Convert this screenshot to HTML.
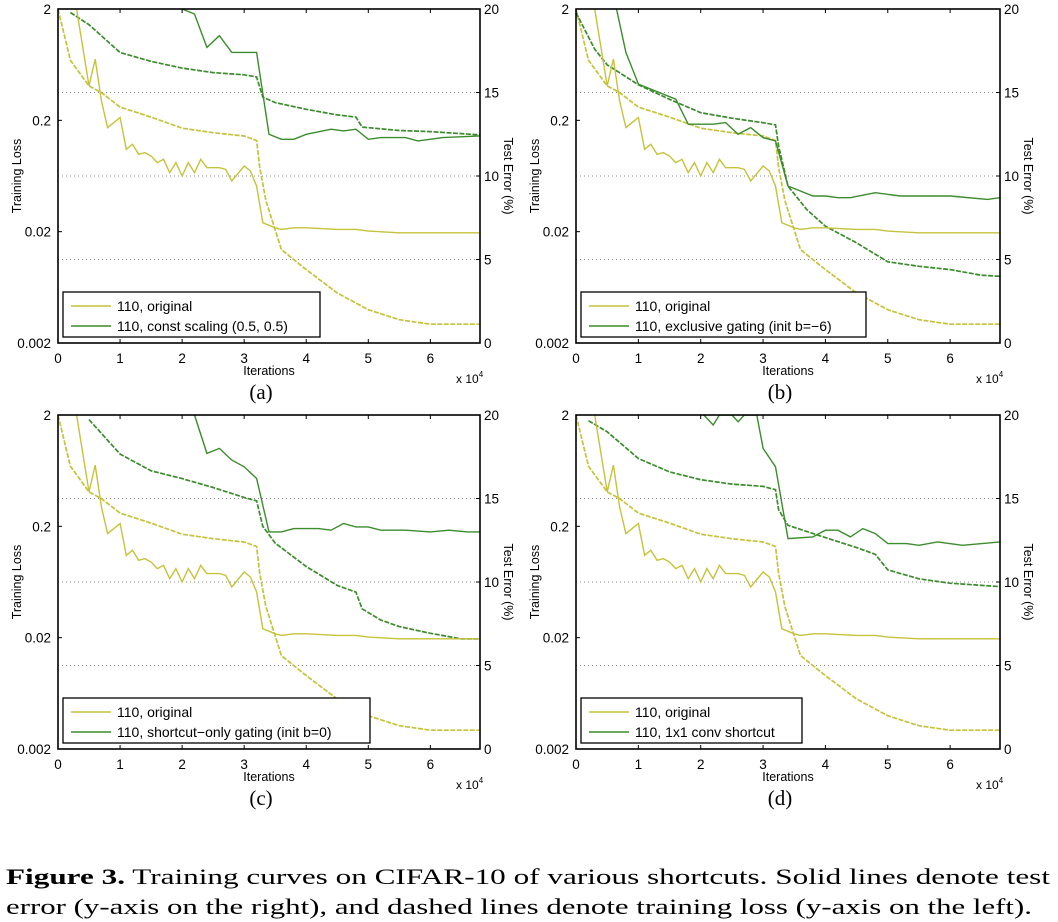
<!DOCTYPE html>
<html><head><meta charset="utf-8">
<style>
html,body{margin:0;padding:0;background:#fff;}
svg{display:block;font-family:"Liberation Sans",sans-serif;}
</style></head>
<body>
<svg id="fig" width="1058" height="922" viewBox="0 0 1058 922" xmlns="http://www.w3.org/2000/svg">
<g id="panels"></g>
<text x="6" y="884" font-family="'Liberation Serif',serif" font-size="22" textLength="1044" lengthAdjust="spacingAndGlyphs"><tspan font-weight="bold">Figure 3.</tspan> Training curves on CIFAR-10 of various shortcuts. Solid lines denote test</text>
<text x="6" y="914" font-family="'Liberation Serif',serif" font-size="22" textLength="1026" lengthAdjust="spacingAndGlyphs">error (y-axis on the right), and dashed lines denote training loss (y-axis on the left).</text>
</svg>
<script>
// x in units of 1e4 iterations; test error in %; training loss as log10 value
const origErrX = [0.3,0.5,0.6,0.7,0.8,1.0,1.1,1.2,1.3,1.4,1.5,1.6,1.7,1.8,1.9,2.0,2.1,2.2,2.3,2.4,2.6,2.7,2.8,3.0,3.1,3.2,3.3,3.5,3.6,3.8,4.0,4.5,4.8,5.0,5.5,6.0,6.8];
const origErrY = [20,15.4,17.0,14.5,12.9,13.5,11.6,11.9,11.3,11.4,11.2,10.8,11.0,10.2,10.8,10.0,10.8,10.2,11.0,10.5,10.5,10.4,9.7,10.6,10.3,9.4,7.2,6.9,6.8,6.9,6.9,6.8,6.8,6.7,6.6,6.6,6.6];
const origLossX = [0,0.2,0.5,0.7,1.0,1.5,2.0,2.5,3.0,3.2,3.25,3.35,3.6,4.0,4.5,5.0,5.5,6.0,6.8];
const origLossY = [0.30,-0.16,-0.39,-0.45,-0.58,-0.67,-0.77,-0.81,-0.84,-0.88,-1.12,-1.42,-1.86,-2.04,-2.25,-2.40,-2.49,-2.53,-2.53];

const aErrX = [2.0,2.2,2.4,2.6,2.8,3.2,3.4,3.6,3.8,4.0,4.4,4.6,4.8,5.0,5.2,5.6,5.8,6.2,6.8];
const aErrY = [20,19.7,17.7,18.4,17.4,17.4,12.5,12.2,12.2,12.5,12.8,12.7,12.8,12.2,12.3,12.3,12.1,12.3,12.4];
const aLossX = [0.2,0.5,1.0,1.5,2.0,2.5,3.0,3.2,3.3,3.5,4.0,4.5,4.8,4.9,5.5,6.0,6.8];
const aLossY = [0.27,0.16,-0.09,-0.17,-0.23,-0.27,-0.29,-0.31,-0.49,-0.54,-0.60,-0.65,-0.67,-0.76,-0.79,-0.80,-0.83];

const bErrX = [0.65,0.8,1.0,1.6,1.8,2.2,2.4,2.6,2.8,3.0,3.2,3.4,3.8,4.0,4.2,4.4,4.8,5.2,6.0,6.6,6.8];
const bErrY = [20,17.4,15.5,14.6,13.1,13.1,13.2,12.5,12.9,12.3,12.1,9.4,8.8,8.8,8.7,8.7,9.0,8.8,8.8,8.6,8.7];
const bLossX = [0,0.3,0.5,1.0,1.5,2.0,2.5,3.0,3.2,3.25,3.4,3.7,4.0,4.5,5.0,5.5,6.0,6.5,6.8];
const bLossY = [0.27,-0.06,-0.20,-0.38,-0.51,-0.63,-0.68,-0.72,-0.74,-0.93,-1.29,-1.50,-1.65,-1.80,-1.97,-2.01,-2.04,-2.09,-2.10];

const cErrX = [2.2,2.4,2.6,2.8,3.0,3.2,3.4,3.6,3.8,4.2,4.4,4.6,4.8,5.0,5.2,5.6,6.0,6.3,6.6,6.8];
const cErrY = [20,17.7,18.0,17.3,16.9,16.2,13.0,13.0,13.2,13.2,13.1,13.5,13.3,13.3,13.1,13.1,13.0,13.1,13.0,13.0];
const cLossX = [0.5,1.0,1.5,2.0,2.5,3.0,3.2,3.3,3.5,4.0,4.5,4.8,4.9,5.2,5.5,6.0,6.5,6.8];
const cLossY = [0.26,-0.05,-0.20,-0.27,-0.35,-0.44,-0.47,-0.70,-0.85,-1.06,-1.23,-1.29,-1.44,-1.54,-1.60,-1.66,-1.71,-1.71];

const dErrX = [2.05,2.2,2.3,2.4,2.5,2.6,2.7,2.9,3.0,3.2,3.4,3.8,4.0,4.2,4.4,4.6,4.8,5.0,5.3,5.5,5.8,6.2,6.8];
const dErrY = [20,19.4,20,20,20,19.6,20,20,18.0,16.9,12.6,12.7,13.1,13.1,12.7,13.2,12.9,12.3,12.3,12.2,12.4,12.2,12.4];
const dLossX = [0.2,0.5,1.0,1.5,2.0,2.5,3.0,3.2,3.25,3.4,4.0,4.5,4.8,5.0,5.5,6.0,6.8];
const dLossY = [0.25,0.15,-0.09,-0.21,-0.28,-0.32,-0.34,-0.37,-0.55,-0.69,-0.80,-0.89,-0.95,-1.09,-1.17,-1.21,-1.24];

const xTicks = [0,1,2,3,4,5,6];
const leftTickVals = [0.301,-0.699,-1.699,-2.699];
const leftTickLabels = ["2","0.2","0.02","0.002"];
const rightTicks = [0,5,10,15,20];
const panelLetters = ["(a)","(b)","(c)","(d)"];
const legendLabels = ["110, const scaling (0.5, 0.5)","110, exclusive gating (init b=\u22126)","110, shortcut\u2212only gating (init b=0)","110, 1x1 conv shortcut"];

const YEL = "#c6c23a", GRN = "#3b8c2c";
const NS = "http://www.w3.org/2000/svg";
function mk(tag, attrs, parent){const e=document.createElementNS(NS,tag);for(const k in attrs)e.setAttribute(k,attrs[k]);if(parent)parent.appendChild(e);return e;}

const layout = [
  {L:58,R:480,T:9,B:343,legW:257},
  {L:576,R:1000,T:9,B:343,legW:285},
  {L:58,R:480,T:415,B:749,legW:307},
  {L:576,R:1000,T:415,B:749,legW:221}
];
const greens = [[aErrX,aErrY,aLossX,aLossY],[bErrX,bErrY,bLossX,bLossY],[cErrX,cErrY,cLossX,cLossY],[dErrX,dErrY,dLossX,dLossY]];
const root = document.getElementById('panels');

layout.forEach((p,i)=>{
  const g = mk('g',{},root);
  
  
  const xs = v => p.L + v/6.8*(p.R-p.L);
  const yR = v => p.B - v/20*(p.B-p.T);
  const yL = v => p.T + (0.301 - v)/3*(p.B-p.T);
  const cid = 'clip'+i;
  const cp = mk('clipPath',{id:cid},g); mk('rect',{x:p.L,y:p.T,width:p.R-p.L,height:p.B-p.T},cp);
  [5,10,15].forEach(v=>{
    const l = mk('line',{x1:p.L,x2:p.R,y1:yR(v),y2:yR(v),stroke:'#888','stroke-width':1,'stroke-dasharray':'1,3'},g);
    
    
  });
  const plot = mk('g',{'clip-path':'url(#'+cid+')'},g);
  function line(xa,ya,yf,col,dash,name){
    const d = xa.map((x,k)=>(k?'L':'M')+xs(x).toFixed(1)+','+yf(ya[k]).toFixed(1)).join('');
    const path = mk('path',{d:d,fill:'none',stroke:col,'stroke-width':dash?1.7:1.4},plot);
    if(dash) path.setAttribute('stroke-dasharray',dash);
    
    
  }
  const gr = greens[i];
  line(origLossX,origLossY,yL,YEL,'5,1.5','original-training-loss');
  line(gr[2],gr[3],yL,GRN,'5,1.5','variant-training-loss');
  line(origErrX,origErrY,yR,YEL,null,'original-test-error');
  line(gr[0],gr[1],yR,GRN,null,'variant-test-error');
  const fr = mk('rect',{x:p.L,y:p.T,width:p.R-p.L,height:p.B-p.T,fill:'none',stroke:'#000','stroke-width':1.6},g);
  
  
  xTicks.forEach(v=>{
    const x = xs(v);
    mk('line',{x1:x,x2:x,y1:p.B,y2:p.B-4,stroke:'#000'},g);
    mk('line',{x1:x,x2:x,y1:p.T,y2:p.T+4,stroke:'#000'},g);
    const t = mk('text',{x:x,y:p.B+20,'font-size':13.5,'text-anchor':'middle'},g);
    t.textContent = v;
    
    
  });
  leftTickVals.forEach((v,k)=>{
    const y = yL(v);
    mk('line',{x1:p.L,x2:p.L+4,y1:y,y2:y,stroke:'#000'},g);
    const t = mk('text',{x:p.L-7,y:y+5,'font-size':13.5,'text-anchor':'end'},g);
    t.textContent = leftTickLabels[k];
    
    
  });
  rightTicks.forEach(v=>{
    const y = yR(v);
    mk('line',{x1:p.R,x2:p.R-4,y1:y,y2:y,stroke:'#000'},g);
    const t = mk('text',{x:p.R+4,y:y+5,'font-size':13.5},g);
    t.textContent = v;
    
    
  });
  const cx = (p.L+p.R)/2;
  const xl = mk('text',{x:cx,y:p.B+32,'font-size':12.5,'text-anchor':'middle'},g);
  xl.textContent='Iterations';
  
  
  const ex = mk('text',{x:p.R-24,y:p.B+40,'font-size':12},g);
  ex.innerHTML='x 10<tspan font-size="8" dy="-6">4</tspan>';
  
  
  const yl = mk('text',{x:0,y:0,'font-size':12.5,'text-anchor':'middle',transform:`translate(${p.L-37},${(p.T+p.B)/2}) rotate(-90)`},g);
  yl.textContent='Training Loss';
  
  
  const yr = mk('text',{x:0,y:0,'font-size':12.5,'text-anchor':'middle',transform:`translate(${p.R+24},${(p.T+p.B)/2}) rotate(90)`},g);
  yr.textContent='Test Error (%)';
  
  
  const pl = mk('text',{x:cx-8,y:p.B+56,'font-size':21,'text-anchor':'middle','font-family':"'Liberation Serif',serif"},g);
  pl.textContent=panelLetters[i];
  
  
  const lx = p.L+5, ly = p.B-51;
  const lg = mk('g',{},g);
  
  
  mk('rect',{x:lx,y:ly,width:p.legW,height:45,fill:'#fff',stroke:'#000','stroke-width':1.3},lg);
  [[YEL,'110, original'],[GRN,legendLabels[i]]].forEach((e,k)=>{
    const yy = ly+14+k*20;
    const ent = mk('g',{},lg);
    
    
    mk('line',{x1:lx+8,x2:lx+48,y1:yy,y2:yy,stroke:e[0],'stroke-width':1.4},ent);
    const t = mk('text',{x:lx+54,y:yy+5,'font-size':14},ent);
    t.textContent=e[1];
  });
});
</script>
</body></html>
